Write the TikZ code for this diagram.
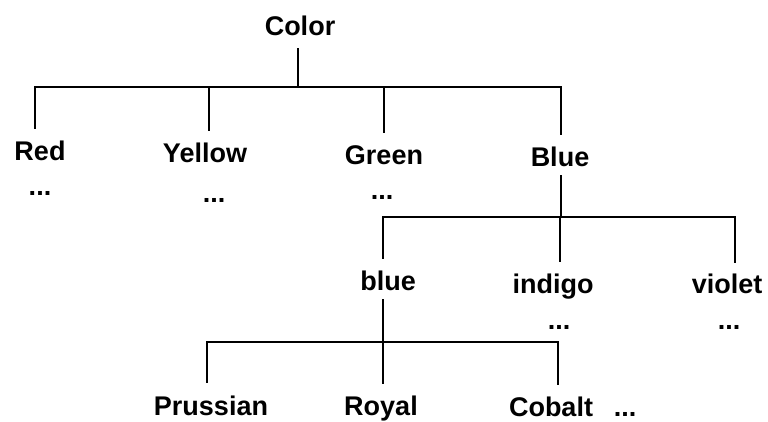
\documentclass[tikz,border=0pt]{standalone}
\usepackage{fontspec}
\setmainfont{Liberation Sans}
\usetikzlibrary{calc}
\begin{document}
\begin{tikzpicture}[x=1pt,y=-1pt,
  lbl/.style={font=\fontsize{27}{30}\selectfont\bfseries, inner sep=0pt, text height=19pt, text depth=0pt, anchor=base},
  conn/.style={line width=2pt, line cap=rect}]
\useasboundingbox (0,0) rectangle (768,421);
% level 0
\node[lbl] (color) at (300,35) {Color};
% level 1
\node[lbl] (red) at (40,160) {Red};
\node[lbl] (yellow) at (205,162) {Yellow};
\node[lbl] (green) at (384,164) {Green};
\node[lbl] (blueA) at (560,166) {Blue};
\node[lbl] (redd) at (40,195) {...};
\node[lbl] (yellowd) at (214,202) {...};
\node[lbl] (greend) at (382,199) {...};
% level 2
\node[lbl] (blueb) at (388,290) {blue};
\node[lbl] (indigo) at (553,293) {indigo};
\node[lbl] (violet) at (727,293) {violet};
\node[lbl] (indigod) at (559,329) {...};
\node[lbl] (violetd) at (729,329) {...};
% level 3
\node[lbl] (prussian) at (211,415) {Prussian};
\node[lbl] (royal) at (381,415) {Royal};
\node[lbl] (cobalt) at (551,416) {Cobalt};
\node[lbl] (cobaltd) at (625,416) {...};
% junctions
\coordinate (p0) at (298,87);
\coordinate (jr) at (35,87);
\coordinate (jy) at (209,87);
\coordinate (jg) at (384,87);
\coordinate (jb) at (561,87);
\coordinate (p1) at (561,217);
\coordinate (k1) at (383,217);
\coordinate (k2) at (560,217);
\coordinate (k3) at (735,217);
\coordinate (p2) at (383,342);
\coordinate (m1) at (207,342);
\coordinate (m2) at (383,342);
\coordinate (m3) at (558,342);
% level 0 -> 1
\draw[conn] ($(p0 |- color.south)+(0,-14pt)$) -- (p0);
\draw[conn] (jr) -- (jb);
\draw[conn] (jr) -- ($(jr |- red.north)+(0,13pt)$);
\draw[conn] (jy) -- ($(jy |- yellow.north)+(0,13pt)$);
\draw[conn] (jg) -- ($(jg |- green.north)+(0,13pt)$);
\draw[conn] (jb) -- ($(jb |- blueA.north)+(0,13pt)$);
% level 1 -> 2
\draw[conn] ($(p1 |- blueA.south)+(0,-10pt)$) -- (p1);
\draw[conn] (k1) -- (k3);
\draw[conn] (k1) -- ($(k1 |- blueb.north)+(0,13pt)$);
\draw[conn] (k2) -- ($(k2 |- indigo.north)+(0,13pt)$);
\draw[conn] (k3) -- ($(k3 |- violet.north)+(0,12pt)$);
% level 2 -> 3
\draw[conn] ($(p2 |- blueb.south)+(0,-10pt)$) -- (p2);
\draw[conn] (m1) -- (m3);
\draw[conn] (m1) -- ($(m1 |- prussian.north)+(0,14pt)$);
\draw[conn] (m2) -- ($(m2 |- royal.north)+(0,13pt)$);
\draw[conn] (m3) -- ($(m3 |- cobalt.north)+(0,13pt)$);
\end{tikzpicture}
\end{document}
